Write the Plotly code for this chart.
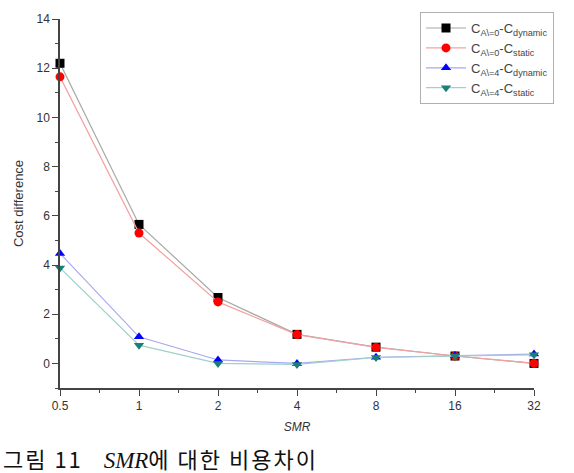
import math
import plotly.graph_objects as go

smr = [0.5, 1, 2, 4, 8, 16, 32]
tick_labels = ["0.5", "1", "2", "4", "8", "16", "32"]
c0_dynamic = [12.2, 5.65, 2.68, 1.18, 0.66, 0.30, 0.00]
c0_static = [11.65, 5.3, 2.5, 1.17, 0.65, 0.30, 0.00]
c4_dynamic = [4.47, 1.08, 0.14, 0.00, 0.25, 0.32, 0.38]
c4_static = [3.88, 0.74, 0.00, -0.04, 0.24, 0.30, 0.35]

names = [
    "C<sub>A\\=0</sub>-C<sub>dynamic</sub>",
    "C<sub>A\\=0</sub>-C<sub>static</sub>",
    "C<sub>A\\=4</sub>-C<sub>dynamic</sub>",
    "C<sub>A\\=4</sub>-C<sub>static</sub>",
]
series = [c0_dynamic, c0_static, c4_dynamic, c4_static]
line_colors = ["#a8a8a8", "#f4a0a0", "#a8a8ee", "#a0d0cc"]
marker_colors = ["#000000", "#ff0000", "#0000ff", "#1a7f75"]
symbols = ["square", "circle", "triangle-up", "triangle-down"]

fig = go.Figure()
for name, ys, lc, mc, sym in zip(names, series, line_colors, marker_colors, symbols):
    fig.add_trace(go.Scatter(
        x=smr, y=ys, name=name, mode="lines+markers",
        line=dict(color=lc, width=1.2),
        marker=dict(color=mc, symbol=sym, size=9),
        cliponaxis=False,
    ))

minor_x = [math.sqrt(a * b) for a, b in zip(smr[:-1], smr[1:])]

fig.update_layout(
    width=574, height=473,
    margin=dict(l=60, r=40, t=17, b=85),
    paper_bgcolor="white", plot_bgcolor="white",
    font=dict(family="Liberation Sans, Arial", size=12, color="#333333"),
    showlegend=True,
    legend=dict(
        x=(420 - 60) / 474, y=1 + (17 - 10) / 371, xanchor="left", yanchor="top",
        bgcolor="white", bordercolor="#b0b0b0", borderwidth=1,
        font=dict(size=13, color="#444444"),
        tracegroupgap=0, itemwidth=40,
    ),
    xaxis=dict(
        type="log", range=[math.log10(0.5), math.log10(32)],
        tickmode="array", tickvals=smr, ticktext=tick_labels,
        ticks="outside", ticklen=6, tickwidth=1.2, tickcolor="#444",
        showline=True, linecolor="#444", linewidth=1.5,
        showgrid=False, zeroline=False,
        minor=dict(tickmode="array", tickvals=minor_x, ticks="outside", ticklen=3, tickcolor="#444", showgrid=False),
        tickfont=dict(size=12, color="#333"),
        title=dict(text="<i>SMR</i>", font=dict(size=12, color="#333"), standoff=10),
    ),
    yaxis=dict(
        range=[-1, 14], tickmode="array", tickvals=[0, 2, 4, 6, 8, 10, 12, 14],
        ticks="outside", ticklen=6, tickwidth=1.2, tickcolor="#444",
        showline=True, linecolor="#444", linewidth=1.5,
        showgrid=False, zeroline=False,
        minor=dict(tickmode="array", tickvals=[-1, 1, 3, 5, 7, 9, 11, 13], ticks="outside", ticklen=3, tickcolor="#444", showgrid=False),
        tickfont=dict(size=12, color="#333"),
        title=dict(text="Cost difference", font=dict(size=13, color="#333"), standoff=10),
    ),
    annotations=[dict(
        xref="paper", yref="paper", x=(1 - 60) / 474, y=(388 - 440) / 371,
        xanchor="left", yanchor="top", showarrow=False,
        text="<span style='letter-spacing:2px'>그림&nbsp;11&nbsp;&nbsp;&nbsp;</span><span style='font-family:Liberation Serif;font-style:italic;font-size:23px'>SMR</span><span style='letter-spacing:2px'>에&nbsp;대한&nbsp;비용차이</span>",
        font=dict(family="Noto Sans CJK KR", size=22, color="#111"),
    )],
)

fig.write_html("out.html")
